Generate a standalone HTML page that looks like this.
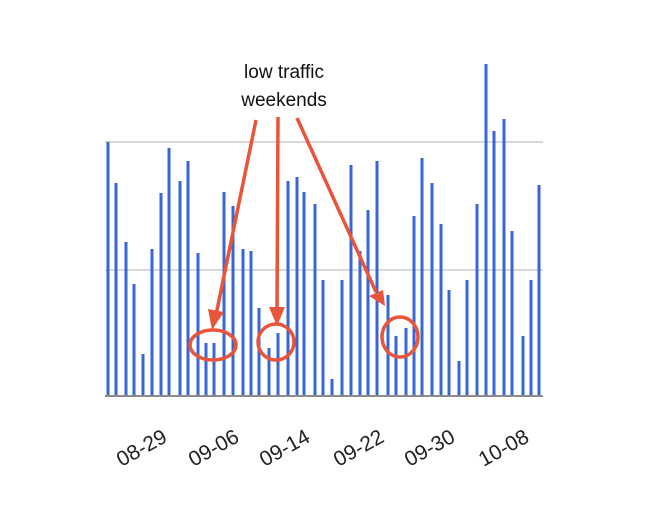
<!DOCTYPE html>
<html><head><style>body{margin:0;background:#fff}</style></head><body>
<svg width="652" height="500" viewBox="0 0 652 500" xmlns="http://www.w3.org/2000/svg">
<rect width="652" height="500" fill="#fff"/>
<line x1="105" y1="142" x2="543" y2="142" stroke="#ccc" stroke-width="1.5"/>
<line x1="105" y1="270" x2="543" y2="270" stroke="#ccc" stroke-width="1.5"/>
<g stroke="#3a66d4" stroke-width="3">
<line x1="108" y1="395" x2="108" y2="142"/>
<line x1="116" y1="395" x2="116" y2="183"/>
<line x1="126" y1="395" x2="126" y2="242"/>
<line x1="134" y1="395" x2="134" y2="284"/>
<line x1="143" y1="395" x2="143" y2="354"/>
<line x1="152" y1="395" x2="152" y2="249"/>
<line x1="161" y1="395" x2="161" y2="193"/>
<line x1="169" y1="395" x2="169" y2="148"/>
<line x1="180" y1="395" x2="180" y2="181"/>
<line x1="188" y1="395" x2="188" y2="161"/>
<line x1="198" y1="395" x2="198" y2="253"/>
<line x1="206" y1="395" x2="206" y2="343"/>
<line x1="214" y1="395" x2="214" y2="343"/>
<line x1="224" y1="395" x2="224" y2="192"/>
<line x1="233" y1="395" x2="233" y2="206"/>
<line x1="243" y1="395" x2="243" y2="249"/>
<line x1="251" y1="395" x2="251" y2="251"/>
<line x1="259" y1="395" x2="259" y2="308"/>
<line x1="269" y1="395" x2="269" y2="348"/>
<line x1="278" y1="395" x2="278" y2="333"/>
<line x1="288" y1="395" x2="288" y2="181"/>
<line x1="297" y1="395" x2="297" y2="177"/>
<line x1="304" y1="395" x2="304" y2="192"/>
<line x1="315" y1="395" x2="315" y2="204"/>
<line x1="323" y1="395" x2="323" y2="280"/>
<line x1="332" y1="395" x2="332" y2="379"/>
<line x1="342" y1="395" x2="342" y2="280"/>
<line x1="351" y1="395" x2="351" y2="165"/>
<line x1="360" y1="395" x2="360" y2="251"/>
<line x1="368" y1="395" x2="368" y2="210"/>
<line x1="377" y1="395" x2="377" y2="161"/>
<line x1="388" y1="395" x2="388" y2="295"/>
<line x1="396" y1="395" x2="396" y2="336"/>
<line x1="406" y1="395" x2="406" y2="328"/>
<line x1="414" y1="395" x2="414" y2="216"/>
<line x1="422" y1="395" x2="422" y2="158"/>
<line x1="432" y1="395" x2="432" y2="183"/>
<line x1="441" y1="395" x2="441" y2="224"/>
<line x1="449" y1="395" x2="449" y2="290"/>
<line x1="459" y1="395" x2="459" y2="361"/>
<line x1="467" y1="395" x2="467" y2="280"/>
<line x1="477" y1="395" x2="477" y2="204"/>
<line x1="486" y1="395" x2="486" y2="64"/>
<line x1="494" y1="395" x2="494" y2="131"/>
<line x1="504" y1="395" x2="504" y2="119"/>
<line x1="512" y1="395" x2="512" y2="231"/>
<line x1="523" y1="395" x2="523" y2="336"/>
<line x1="531" y1="395" x2="531" y2="280"/>
<line x1="539" y1="395" x2="539" y2="185"/>
</g>
<line x1="105" y1="396" x2="543" y2="396" stroke="#666" stroke-width="1.5"/>
<g font-family="Liberation Sans, sans-serif" font-size="21" fill="#222" text-anchor="middle">
<text transform="translate(145,454) rotate(-29)">08-29</text>
<text transform="translate(217,454) rotate(-29)">09-06</text>
<text transform="translate(288,454) rotate(-29)">09-14</text>
<text transform="translate(362,454) rotate(-29)">09-22</text>
<text transform="translate(433,454) rotate(-29)">09-30</text>
<text transform="translate(507,454) rotate(-29)">10-08</text>
</g>
<g font-family="Liberation Sans, sans-serif" font-size="19" fill="#111" text-anchor="middle">
<text x="284" y="78">low traffic</text>
<text x="284" y="106">weekends</text>
</g>
<g stroke="#e8553a" stroke-width="3.5" fill="none">
<line x1="256" y1="120" x2="216" y2="315"/>
<line x1="278" y1="117" x2="277" y2="310"/>
<line x1="297" y1="118" x2="376" y2="292"/>
<ellipse cx="213" cy="345" rx="23" ry="15"/>
<ellipse cx="276" cy="342" rx="18" ry="18"/>
<ellipse cx="400" cy="337" rx="18" ry="20"/>
</g>
<g fill="#e8553a">
<polygon points="208,309 224,312 212,330"/>
<polygon points="269,307 285,307 277,326"/>
<polygon points="369,296 383,290 385,306"/>
</g>
</svg>
</body></html>
